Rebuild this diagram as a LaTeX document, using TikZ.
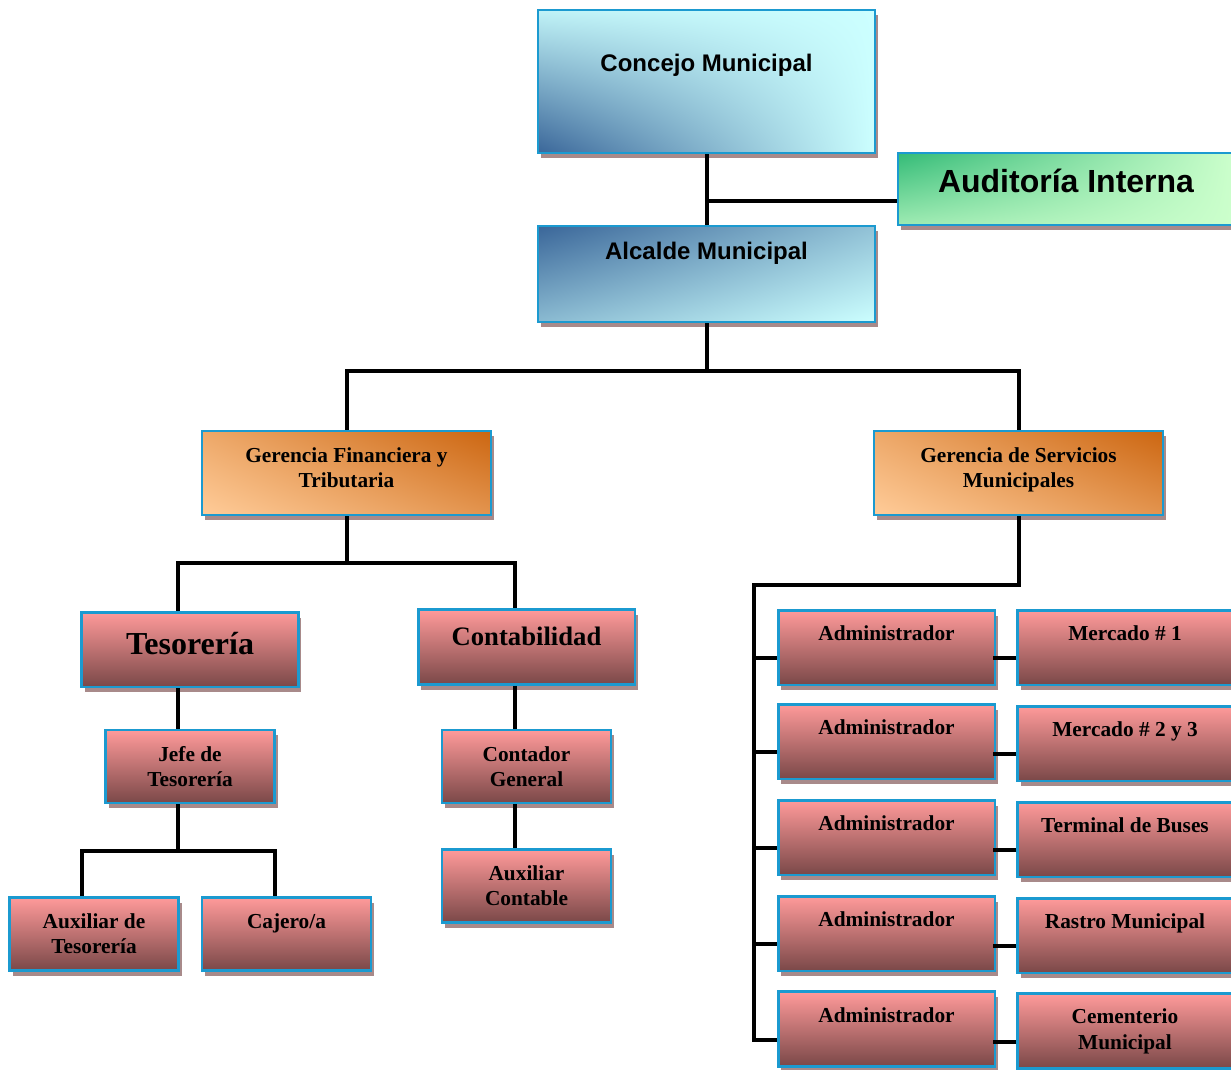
\documentclass[tikz,border=0pt]{standalone}
\usepackage{fontspec}
\setmainfont{Liberation Serif}
\setsansfont{Liberation Sans}
\usetikzlibrary{shadows,shadings}

\definecolor{rim}{HTML}{1B9AD0}
\definecolor{brick}{HTML}{A88A8A}
\definecolor{navy}{HTML}{3A6699}
\definecolor{ice}{HTML}{CCFFFF}
\definecolor{mint}{HTML}{CCFFCC}
\definecolor{jade}{HTML}{33BB77}
\definecolor{rust}{HTML}{CC6611}
\definecolor{peach}{HTML}{FFCC99}
\definecolor{rosetop}{HTML}{FF9A9A}
\definecolor{rosebot}{HTML}{7A4848}

\begin{document}
\begin{tikzpicture}[x=0.75pt, y=-0.75pt, line width=3pt,
    box/.style={rectangle, draw=rim, line width=2pt, align=center, text=black,
        drop shadow={shadow xshift=2.25pt, shadow yshift=-4pt, fill=brick, opacity=1}},
    lift/.style={text depth=#1},
    skybox/.style={box, font=\sffamily\bfseries\fontsize{18}{22}\selectfont,
        minimum width=252.75pt},
    amberbox/.style={box, font=\bfseries\fontsize{16}{19}\selectfont,
        minimum width=216.75pt, minimum height=63pt,
        upper right=rust, lower left=peach, upper left=peach!65!rust, lower right=peach!45!rust},
    rosebox/.style={box, font=\bfseries\fontsize{16}{19}\selectfont,
        minimum width=126.75pt, minimum height=54.75pt,
        top color=rosetop, bottom color=rosebot},
    wide/.style={minimum width=162.5pt, minimum height=56pt}]

    \useasboundingbox (0,0) rectangle (1231,1070);

    % draw nodes
    \node [skybox, minimum height=107.25pt, lift=28pt,
        lower left=navy, upper left=ice!92!navy, upper right=ice, lower right=ice]
        (concejo) at (706.5, 81.5) {Concejo Municipal};
    \node [skybox, minimum height=72pt, lift=35pt,
        upper left=navy, upper right=ice!60!navy, lower left=ice!55!navy, lower right=ice]
        (alcalde) at (706.5, 274) {Alcalde Municipal};
    \node [box, font=\sffamily\bfseries\fontsize{24}{28}\selectfont,
        minimum width=252pt, minimum height=54pt, lift=12pt,
        upper left=jade, lower left=mint!70!jade, upper right=mint, lower right=mint]
        (audit) at (1066, 189) {Auditoría Interna};

    \foreach \x/\n/\t in {346.5/gfin/{Gerencia Financiera y\\Tributaria},
                          1018.5/gser/{Gerencia de Servicios\\Municipales}}
        \node [amberbox, lift=8pt] (\n) at (\x, 473) {\t};

    \node [rosebox, wide, font=\bfseries\fontsize{24}{28}\selectfont, lift=8.6pt]
        (tes) at (190, 649.5) {Tesorería};
    \node [rosebox, wide, font=\bfseries\fontsize{20}{24}\selectfont, lift=16.6pt]
        (cont) at (526.5, 647) {Contabilidad};

    \foreach \x/\y/\n/\t in {190/766.5/jefe/{Jefe de\\Tesorería},
                             526.5/766.5/contador/{Contador\\General},
                             526.5/886/auxc/{Auxiliar\\Contable},
                             94/934/auxt/{Auxiliar de\\Tesorería}}
        \node [rosebox] (\n) at (\x, \y) {\t};
    \node [rosebox, lift=19.3pt] (cajero) at (286.5, 934) {Cajero/a};

    \foreach [count=\i] \y/\z/\d/\t in {647.5/647.5/21pt/{Mercado \# 1},
                                        741.5/743.5/21pt/{Mercado \# 2 y 3},
                                        837.5/839.5/21pt/{Terminal de Buses},
                                        933.5/935.5/21pt/{Rastro Municipal},
                                        1029/1031/3pt/{Cementerio\\Municipal}}
    {
        \node [rosebox, wide, lift=21pt] (adm\i) at (886.5, \y) {Administrador};
        \node [rosebox, wide, minimum width=161pt, lift=\d] (r\i) at (1125, \z) {\t};
    }

    \coordinate (trunk) at (754, 585);

    % draw edges
    \draw (concejo) -- (alcalde);
    \draw (audit.west) ++(0,12) -| (concejo.south);
    \foreach \j in {gfin, gser}
        \draw (alcalde.south) -- ++(0,48) -| (\j.north);
    \foreach \j in {tes, cont}
        \draw (gfin.south) -- ++(0,47) -| ([xshift=-9pt]\j.north);
    \foreach \i/\j in {tes/jefe, cont/contador, contador/auxc}
        \draw ([xshift=-9pt]\i.south) -- ([xshift=-9pt]\j.north);
    \foreach \j in {auxt, cajero}
        \draw ([xshift=-9pt]jefe.south) -- ++(0,47) -| ([xshift=-9pt]\j.north);
    \draw (gser.south) |- (trunk) |- ([yshift=-8pt]adm5.west);
    \foreach \i in {1,...,4}
        \draw ([yshift=-8pt]adm\i.west) -- ++(-24,0);
    \foreach \i in {1,...,5}
        \draw ([yshift=-8pt]r\i.west) -- ++(-23,0);

\end{tikzpicture}
\end{document}
